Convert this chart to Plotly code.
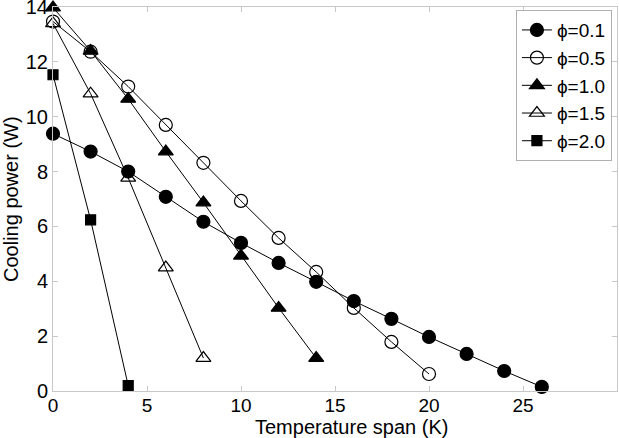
import plotly.graph_objects as go

# temperature span (K) per series
span_01 = [0, 2, 4, 6, 8, 10, 12, 14, 16, 18, 20, 22, 24, 26]
power_01 = [9.38, 8.73, 8.0, 7.08, 6.17, 5.4, 4.67, 3.98, 3.28, 2.63, 1.97, 1.35, 0.73, 0.15]

span_05 = [0, 2, 4, 6, 8, 10, 12, 14, 16, 18, 20]
power_05 = [13.47, 12.37, 11.1, 9.7, 8.32, 6.93, 5.58, 4.34, 3.03, 1.79, 0.62]

span_10 = [0, 2, 4, 6, 8, 10, 12, 14]
power_10 = [13.98, 12.4, 10.65, 8.73, 6.87, 4.93, 3.03, 1.2]

span_15 = [0, 2, 4, 6, 8]
power_15 = [13.4, 10.84, 7.77, 4.5, 1.2]

span_20 = [0, 2, 4]
power_20 = [11.53, 6.24, 0.2]

x_ticks = [0, 5, 10, 15, 20, 25]
y_ticks = [0, 2, 4, 6, 8, 10, 12, 14]

FONT = "Liberation Sans, Arial, sans-serif"

series = [
    ("\u03d5=0.1", span_01, power_01, "circle", 13),
    ("\u03d5=0.5", span_05, power_05, "circle-open", 13),
    ("\u03d5=1.0", span_10, power_10, "triangle-up", 13),
    ("\u03d5=1.5", span_15, power_15, "triangle-up-open", 13),
    ("\u03d5=2.0", span_20, power_20, "square", 10),
]

fig = go.Figure()
for name, xs, ys, sym, size in series:
    fig.add_trace(
        go.Scatter(
            x=xs,
            y=ys,
            name=name,
            mode="lines+markers",
            line=dict(color="black", width=1),
            marker=dict(symbol=sym, size=size, color="black",
                        line=dict(color="black", width=1.2)),
            cliponaxis=False,
        )
    )

axis_common = dict(
    showgrid=False,
    zeroline=False,
    showline=True,
    linecolor="#c8c8c8",
    linewidth=1,
    mirror="ticks",
    ticks="inside",
    ticklen=5,
    tickcolor="#c8c8c8",
    automargin=False,
    ticklabeloverflow="allow",
)

fig.update_xaxes(range=[0, 30], tickvals=x_ticks, ticklabelstandoff=-3,
                 tickfont=dict(family=FONT, size=19, color="black"), **axis_common)
fig.update_yaxes(range=[0, 14], tickvals=y_ticks,
                 tickfont=dict(family=FONT, size=20, color="black"), **axis_common)

# axis titles
fig.add_annotation(
    text="Temperature span (K)", xref="paper", yref="paper",
    x=(351 - 53) / 564, y=-36 / 384, xanchor="center", yanchor="middle",
    showarrow=False, font=dict(family=FONT, size=20, color="black"),
)
fig.add_annotation(
    text="Cooling power (W)", xref="paper", yref="paper",
    x=-42 / 564, y=0.5, xanchor="center", yanchor="middle", textangle=-90,
    showarrow=False, font=dict(family=FONT, size=20, color="black"),
)

fig.update_layout(
    width=619,
    height=438,
    plot_bgcolor="white",
    paper_bgcolor="white",
    margin=dict(l=53, r=2, t=7, b=47),
    showlegend=True,
    legend=dict(
        x=0.991,
        y=0.992,
        xanchor="right",
        yanchor="top",
        bordercolor="#b0b0b0",
        borderwidth=1,
        bgcolor="white",
        font=dict(family=FONT, size=19, color="black"),
        itemwidth=30,
        tracegroupgap=0,
    ),
)

fig.write_html(
    "out.html",
    config={"displayModeBar": False},
    post_script="document.body.style.margin='0';",
)
